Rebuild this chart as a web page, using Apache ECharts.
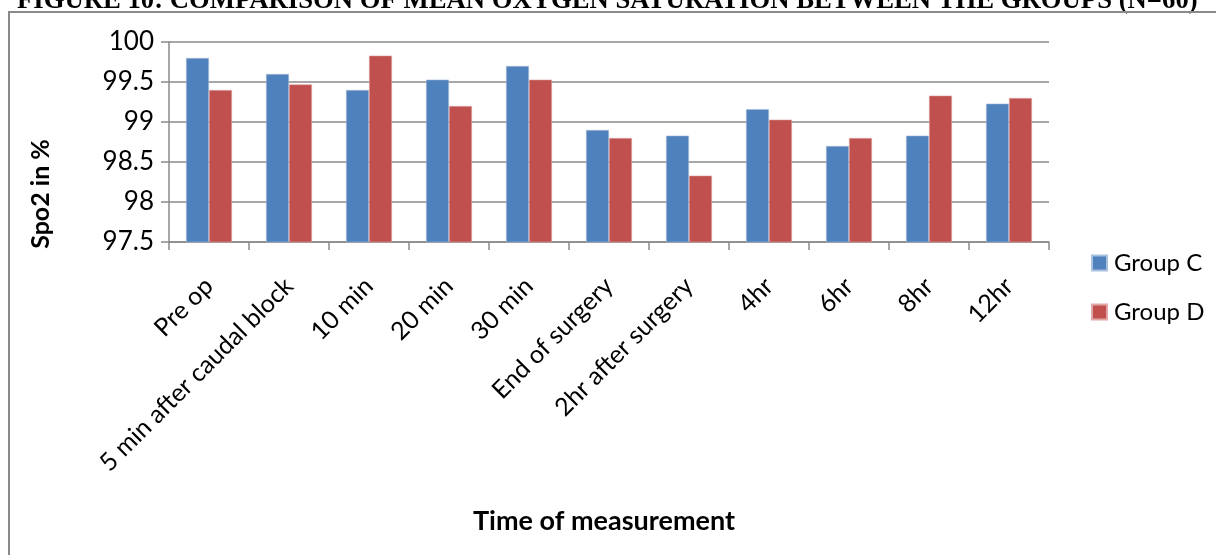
<!DOCTYPE html>
<html>
<head>
<meta charset="utf-8">
<script src="https://cdn.jsdelivr.net/npm/echarts@6/dist/echarts.min.js"></script>
<style>
  html, body { margin: 0; padding: 0; background: #fff; }
  #chart { width: 1216px; height: 555px; }
</style>
</head>
<body>
<div id="chart"></div>
<script>
// Time points at which SpO2 was recorded
const categories = [
  'Pre op', '5 min after caudal block', '10 min', '20 min', '30 min',
  'End of surgery', '2hr after surgery', '4hr', '6hr', '8hr', '12hr'
];
// Mean SpO2 (%) per group
const groupC = [99.8, 99.6, 99.4, 99.53, 99.7, 98.9, 98.83, 99.16, 98.7, 98.83, 99.23];
const groupD = [99.4, 99.47, 99.83, 99.2, 99.53, 98.8, 98.33, 99.03, 98.8, 99.33, 99.3];
const seriesNames = ['Group C', 'Group D'];
const titleText = 'FIGURE 10: COMPARISON OF MEAN OXYGEN SATURATION BETWEEN THE GROUPS (N=60)';

const FONT = 'Lato, "Open Sans", sans-serif';
const GRID_GRAY = '#8a8a8a';

const chart = echarts.init(document.getElementById('chart'), null, { renderer: 'canvas' });

chart.setOption({
  backgroundColor: '#ffffff',
  animation: false,
  graphic: [
    {
      type: 'text',
      left: 17,
      top: -12,
      style: {
        text: titleText,
        font: 'bold 26.7px "Liberation Serif", "Times New Roman", serif',
        fill: '#000'
      }
    },
    {
      // outer chart frame (top and left edges visible)
      type: 'polyline',
      shape: { points: [[9, 560], [9, 12], [1230, 12]] },
      style: { stroke: '#8a8a8a', lineWidth: 2, fill: null }
    },
    {
      type: 'text',
      x: 41,
      y: 194,
      rotation: Math.PI / 2,
      style: {
        text: 'Spo2 in %',
        font: 'bold 25px ' + FONT,
        fill: '#000',
        align: 'center',
        verticalAlign: 'middle'
      }
    },
    {
      type: 'text',
      x: 604,
      y: 521,
      style: {
        text: 'Time of measurement',
        font: 'bold 27px ' + FONT,
        fill: '#000',
        align: 'center',
        verticalAlign: 'middle'
      }
    }
  ],
  legend: {
    orient: 'vertical',
    left: 1091,
    top: 251,
    padding: 0,
    itemWidth: 15,
    itemHeight: 15,
    itemGap: 25,
    icon: 'rect',
    textStyle: { fontFamily: FONT, fontSize: 24, lineHeight: 24, color: '#000', padding: [0, 0, 0, 2] },
    data: seriesNames
  },
  grid: { left: 169, top: 42, right: 167, bottom: 313, containLabel: false },
  xAxis: {
    type: 'category',
    data: categories,
    boundaryGap: true,
    axisLine: { show: true, lineStyle: { color: GRID_GRAY, width: 1.5 } },
    axisTick: { show: true, length: 8, lineStyle: { color: GRID_GRAY, width: 1.5 } },
    axisLabel: {
      interval: 0,
      rotate: 45,
      margin: 40,
      fontFamily: FONT,
      fontSize: 25,
      color: '#000'
    }
  },
  yAxis: {
    type: 'value',
    min: 97.5,
    max: 100,
    interval: 0.5,
    axisLine: { show: true, lineStyle: { color: GRID_GRAY, width: 1.5 } },
    axisTick: { show: true, length: 8, lineStyle: { color: GRID_GRAY, width: 1.5 } },
    splitLine: { show: true, lineStyle: { color: GRID_GRAY, width: 1.5 } },
    axisLabel: {
      margin: 15,
      fontFamily: FONT,
      fontSize: 26,
      color: '#000'
    }
  },
  series: [
    {
      name: seriesNames[0],
      type: 'bar',
      data: groupC,
      barWidth: 23,
      barGap: '0%',
      itemStyle: { color: '#4f81bd', borderColor: '#a9c0de', borderWidth: 0.6 }
    },
    {
      name: seriesNames[1],
      type: 'bar',
      data: groupD,
      barWidth: 23,
      barGap: '0%',
      itemStyle: { color: '#c0504d', borderColor: '#e0a8a6', borderWidth: 0.6 }
    }
  ]
});
</script>
</body>
</html>
